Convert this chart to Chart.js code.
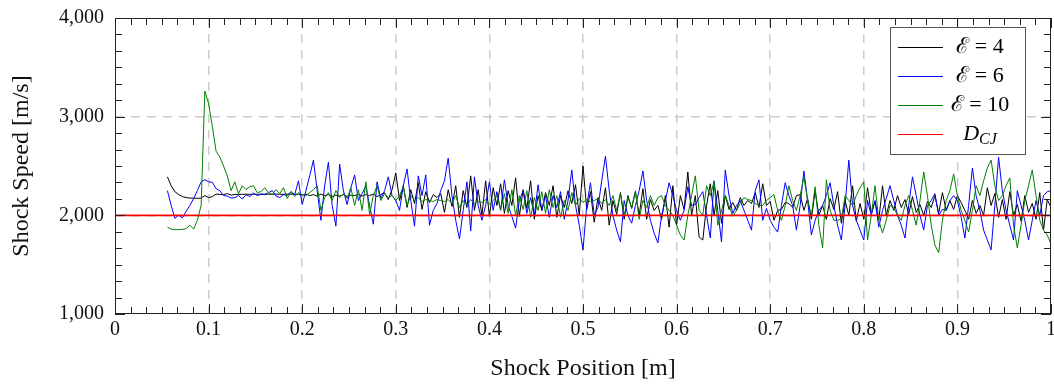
<!DOCTYPE html>
<html>
<head>
<meta charset="utf-8">
<script src="https://cdn.jsdelivr.net/npm/chart.js@4.4.1/dist/chart.umd.min.js"></script>
<style>
html,body{margin:0;padding:0;background:#fff;}
canvas{display:block;}
</style>
</head>
<body>
<canvas id="c" width="1054" height="384"></canvas>
<script>
// ---- data ----
const positions = [
0.056,0.060,0.064,0.068,0.072,0.076,0.080,0.084,0.088,0.092,
0.096,0.100,0.104,0.108,0.112,0.116,0.120,0.124,0.128,0.132,
0.136,0.140,0.144,0.148,0.152,0.156,0.160,0.164,0.168,0.172,
0.176,0.180,0.184,0.188,0.192,0.196,0.200,0.204,0.208,0.212,
0.216,0.220,0.224,0.228,0.232,0.236,0.240,0.244,0.248,0.252,
0.256,0.260,0.264,0.268,0.272,0.276,0.280,0.284,0.288,0.292,
0.296,0.300,0.304,0.308,0.312,0.316,0.320,0.324,0.328,0.332,
0.336,0.340,0.344,0.348,0.352,0.356,0.360,0.364,0.368,0.372,
0.376,0.380,0.384,0.388,0.392,0.396,0.400,0.404,0.408,0.412,
0.416,0.420,0.424,0.428,0.432,0.436,0.440,0.444,0.448,0.452,
0.456,0.460,0.464,0.468,0.472,0.476,0.480,0.484,0.488,0.492,
0.496,0.500,0.504,0.508,0.512,0.516,0.520,0.524,0.528,0.532,
0.536,0.540,0.544,0.548,0.552,0.556,0.560,0.564,0.568,0.572,
0.576,0.580,0.584,0.588,0.592,0.596,0.600,0.604,0.608,0.612,
0.616,0.620,0.624,0.628,0.632,0.636,0.640,0.644,0.648,0.652,
0.656,0.660,0.664,0.668,0.672,0.676,0.680,0.684,0.688,0.692,
0.696,0.700,0.704,0.708,0.712,0.716,0.720,0.724,0.728,0.732,
0.736,0.740,0.744,0.748,0.752,0.756,0.760,0.764,0.768,0.772,
0.776,0.780,0.784,0.788,0.792,0.796,0.800,0.804,0.808,0.812,
0.816,0.820,0.824,0.828,0.832,0.836,0.840,0.844,0.848,0.852,
0.856,0.860,0.864,0.868,0.872,0.876,0.880,0.884,0.888,0.892,
0.896,0.900,0.904,0.908,0.912,0.916,0.920,0.924,0.928,0.932,
0.936,0.940,0.944,0.948,0.952,0.956,0.960,0.964,0.968,0.972,
0.976,0.980,0.984,0.988,0.992,0.996,1.000
];

const speedE4 = [
2390,2300,2240,2210,2190,2180,2175,2175,2172,2175,
2200,2180,2190,2215,2212,2210,2220,2205,2212,2212,
2213,2214,2212,2215,2213,2214,2215,2214,2213,2215,
2214,2213,2215,2214,2213,2214,2205,2215,2200,2210,
2195,2215,2200,2210,2190,2205,2195,2210,2190,2205,
2200,2215,2195,2210,2200,2215,2190,2210,2230,2160,
2260,2430,2150,2300,2080,2260,2120,2330,2060,2240,
2130,2210,2180,2220,2030,2260,2090,2300,1980,2250,
2080,2400,2050,2260,2000,2350,1990,2280,2100,2320,
2020,2250,2100,2380,1990,2260,2070,2350,1960,2200,
2050,2230,2100,2300,1980,2200,2080,2250,2120,2310,
2000,2500,2060,2240,1930,2180,2050,2280,1900,2150,
2010,2230,1960,2200,2070,2240,2000,2270,1960,2160,
2050,2100,1960,2200,1880,2300,1900,2200,2060,2440,
2000,2200,1780,1750,2100,2320,2000,2250,1920,2200,
2060,2130,2050,2180,2100,2150,2120,2230,2080,2320,
2100,2140,1950,2050,2060,2130,2120,2080,2200,2210,
2050,2170,1960,2250,2000,2100,1960,2170,2060,2240,
1920,2150,2000,2300,1940,2120,1960,2280,2020,2140,
1950,2300,2000,2150,2050,2200,2080,2160,2010,2190,
2030,2110,2000,2140,2080,2200,2020,2230,2050,2150,
2060,2200,2130,2050,1960,2150,2020,2100,2000,2280,
2100,2220,1980,2160,1960,2240,2000,2110,1940,2200,
2030,2120,1960,2230,1850,2160,2080
];

const speedE6 = [
2250,2100,1970,2000,1975,2040,2100,2170,2250,2340,
2360,2340,2335,2270,2250,2200,2195,2175,2180,2200,
2165,2210,2190,2225,2200,2215,2210,2230,2250,2195,
2180,2210,2200,2240,2210,2350,2110,2250,2400,2560,
2250,1950,2300,2540,2100,1890,2520,2250,2110,2280,
2410,2150,2220,2300,2100,1910,2340,2170,2250,2390,
2200,2150,2050,2300,2470,2150,1890,2400,2200,2410,
1900,2050,2120,2250,2350,2580,2200,1950,1760,2050,
2340,1840,2390,2100,1950,2100,2340,2050,2240,2050,
2360,2100,1990,1870,2150,2250,2020,2180,2000,2310,
2050,2200,1980,2200,2080,2240,1960,2150,2460,2100,
1900,1650,2100,2330,2000,2080,2350,2600,2250,2000,
1850,1730,2150,2000,1920,2100,2250,2450,2150,1950,
1820,1720,2000,2150,2330,2200,2050,1950,2050,2290,
2100,2110,2180,2240,2000,1770,2350,2050,1730,2460,
2200,2020,2100,2150,2050,1950,1850,2250,2360,1950,
2070,1950,1880,1830,2100,2330,2200,2100,1850,2100,
2450,2150,1800,1950,2050,2100,2200,2330,2100,1900,
1750,2100,2560,2100,1950,1850,1750,2150,2000,2150,
1880,2050,2170,2300,2150,2000,1900,1770,2100,2390,
2200,2000,1850,2100,2150,2220,2000,2060,2050,2150,
2200,2150,1980,1770,2100,2480,2200,2050,1850,1750,
1650,2100,2590,2250,2050,1900,1750,2250,2100,1950,
1750,1950,2150,2000,2200,2240,2250
];

const speedE10 = [
1880,1860,1855,1855,1858,1865,1900,1860,1950,2100,
3260,3130,2900,2650,2590,2500,2400,2250,2340,2220,
2300,2260,2290,2300,2230,2240,2280,2230,2210,2260,
2220,2280,2170,2240,2190,2230,2210,2200,2230,2260,
2300,2050,2180,2230,2150,2250,2180,2220,2170,2280,
2100,2260,2050,2340,2010,2200,2300,2150,2220,2180,
2200,2150,2200,2290,2100,2200,2150,2180,2140,2160,
2150,2140,2160,2150,2140,2160,2120,2200,2080,2150,
2100,2160,2120,2140,2130,2160,2110,2150,2200,2060,
2220,2020,2260,2000,2200,2060,2250,1980,2180,2050,
2240,2020,2260,2080,2200,1980,2150,2050,2230,2100,
2170,2130,2160,2140,2150,2170,2120,2160,2100,2200,
2050,2220,2000,2180,2080,2250,1960,2150,2080,2200,
2100,2180,2200,2100,2050,2000,1900,1800,1750,2000,
2200,2400,2050,2000,2300,2200,2340,1900,2050,2200,
2100,1990,2050,2120,2180,2160,2150,2120,2100,2100,
2150,2180,2210,2050,1950,2100,2300,2150,2050,2200,
2390,2150,2000,2290,1900,1670,2360,2050,1950,1950,
1960,2200,2150,2100,2200,2280,2340,1750,2000,2300,
1950,1820,1950,2100,2080,2000,1950,2100,2200,2050,
1900,2150,2440,2200,1900,1700,1620,1950,2150,2250,
2420,2200,2050,1950,1830,2050,2300,2200,2350,2480,
2560,2300,2150,2200,2300,2380,1900,1670,1900,2150,
2300,2460,2200,1950,1850,1800,1710
];

const dcjSpeed = 2000;
const dcjRange = [0, 1];

const seriesLabels = ['ℰ = 4', 'ℰ = 6', 'ℰ = 10'];
const dcjLabelMain = 'D';
const dcjLabelSub = 'CJ';
const xTickLabels = ['0','0.1','0.2','0.3','0.4','0.5','0.6','0.7','0.8','0.9','1'];
const yTickLabels = ['1,000','2,000','3,000','4,000'];
const xTitle = 'Shock Position [m]';
const yTitle = 'Shock Speed [m/s]';

// ---- build ----
const SERIF = "'Liberation Serif','Times New Roman','DejaVu Serif',serif";
function pts(xs, ys) { return xs.map((x, i) => ({x: x, y: ys[i]})); }

const colors = ['#000000', '#0000ff', '#008000'];
const seriesValues = [speedE4, speedE6, speedE10];
const datasets = seriesValues.map((vals, k) => ({
  label: seriesLabels[k],
  data: pts(positions, vals),
  borderColor: colors[k],
  borderWidth: 1,
  pointRadius: 0,
  tension: 0,
  fill: false,
  order: [3, 2, 1][k]
}));
datasets.push({
  label: dcjLabelMain + '_' + dcjLabelSub,
  data: dcjRange.map(x => ({x: x, y: dcjSpeed})),
  borderColor: '#ff0000',
  borderWidth: 1.6,
  pointRadius: 0,
  fill: false,
  order: 0
});

const framePlugin = {
  id: 'frame',
  afterDraw(chart) {
    const {ctx, chartArea: a, scales} = chart;
    const xs = scales.x, ys = scales.y;
    ctx.save();
    ctx.strokeStyle = '#222';
    ctx.lineWidth = 1;
    ctx.beginPath();
    for (let k = 0; k <= 60; k++) {
      const px = Math.round(xs.getPixelForValue(k / 60)) + 0.5;
      const len = (k % 6 === 0) ? 10 : 7;
      ctx.moveTo(px, a.bottom); ctx.lineTo(px, a.bottom - len);
      ctx.moveTo(px, a.top); ctx.lineTo(px, a.top + len);
    }
    for (let k = 0; k <= 18; k++) {
      const py = Math.round(ys.getPixelForValue(1000 + k * 1000 / 6)) + 0.5;
      const len = (k % 6 === 0) ? 10 : 7;
      ctx.moveTo(a.left, py); ctx.lineTo(a.left + len, py);
      ctx.moveTo(a.right, py); ctx.lineTo(a.right - len, py);
    }
    ctx.stroke();
    ctx.strokeRect(a.left + 0.5, a.top + 0.5, a.right - a.left - 1, a.bottom - a.top - 1);

    // legend
    const bx = a.right - 161, by = a.top + 9, bw = 135, bh = 127;
    ctx.fillStyle = '#ffffff';
    ctx.fillRect(bx, by, bw, bh);
    ctx.strokeStyle = '#555';
    ctx.lineWidth = 1;
    ctx.strokeRect(bx + 0.5, by + 0.5, bw, bh);
    chart.data.datasets.forEach((ds, i) => {
      const ry = Math.round(by + 20 + i * 29) + 0.5;
      ctx.strokeStyle = ds.borderColor;
      ctx.lineWidth = 1;
      ctx.beginPath();
      ctx.moveTo(bx + 8, ry); ctx.lineTo(bx + 53, ry);
      ctx.stroke();
      ctx.fillStyle = '#000';
      ctx.textBaseline = 'middle';
      const cx = bx + 90;
      if (ds.label.indexOf('_') >= 0) {
        const parts = ds.label.split('_');
        ctx.font = 'italic 22px ' + SERIF;
        const w1 = ctx.measureText(parts[0]).width;
        ctx.font = 'italic 16px ' + SERIF;
        const w2 = ctx.measureText(parts[1]).width;
        const sx = cx - (w1 + w2) / 2;
        ctx.textAlign = 'left';
        ctx.font = 'italic 22px ' + SERIF;
        ctx.fillText(parts[0], sx, ry);
        ctx.font = 'italic 16px ' + SERIF;
        ctx.fillText(parts[1], sx + w1, ry + 5);
      } else {
        ctx.font = '22px ' + SERIF;
        ctx.textAlign = 'center';
        ctx.fillText(ds.label, cx, ry);
      }
    });
    ctx.restore();
  }
};

const gridColorX = (c) => (c.tick && (c.tick.value === 0 || c.tick.value === 1)) ? 'rgba(0,0,0,0)' : '#cccccc';
const gridColorY = (c) => (c.tick && (c.tick.value === 1000 || c.tick.value === 4000)) ? 'rgba(0,0,0,0)' : '#cccccc';

new Chart(document.getElementById('c'), {
  type: 'line',
  data: { datasets: datasets },
  options: {
    responsive: false,
    animation: false,
    parsing: true,
    layout: { padding: { top: 18, right: 3, left: 0, bottom: 0 } },
    plugins: { legend: { display: false }, tooltip: { enabled: false } },
    scales: {
      x: {
        type: 'linear', min: 0, max: 1,
        grid: { color: gridColorX, drawTicks: false, lineWidth: 1.5 },
        border: { display: false, dash: [9, 7] },
        ticks: {
          stepSize: 0.1, autoSkip: false, maxRotation: 0, padding: 4,
          color: '#111', font: { family: SERIF, size: 20 },
          callback: (v, i) => xTickLabels[i]
        },
        title: { display: true, text: xTitle, color: '#111', font: { family: SERIF, size: 24 }, padding: { top: 0, bottom: 1 } },
        afterFit: (s) => { s.height = 70; s.paddingLeft = 0; s.paddingRight = 0; }
      },
      y: {
        type: 'linear', min: 1000, max: 4000,
        grid: { color: gridColorY, drawTicks: false, lineWidth: 1.5 },
        border: { display: false, dash: [9, 7] },
        ticks: {
          stepSize: 1000, padding: 11,
          color: '#111', font: { family: SERIF, size: 20 },
          callback: (v, i) => yTickLabels[i]
        },
        title: { display: true, text: yTitle, color: '#111', font: { family: SERIF, size: 24 }, padding: { top: 7, bottom: 0 } },
        afterFit: (s) => { s.width = 115; s.paddingTop = 0; s.paddingBottom = 0; }
      }
    }
  },
  plugins: [framePlugin]
});
</script>
</body>
</html>
